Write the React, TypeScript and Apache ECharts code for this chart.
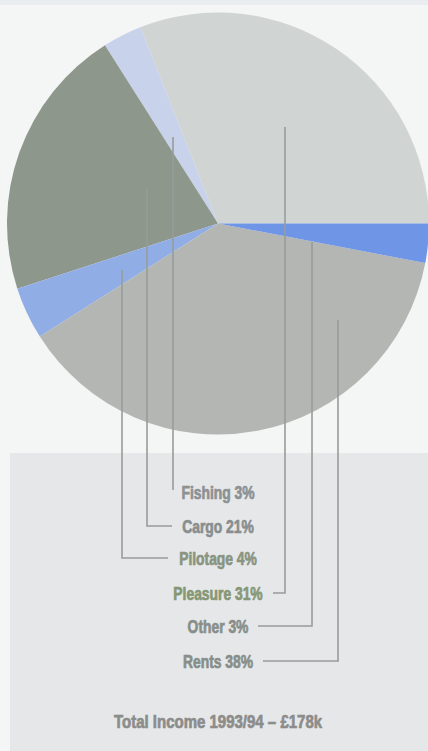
import React, { useEffect, useRef } from "react";
import * as echarts from "echarts";

// Harbour income by source, 1993/94 (percent of total)
const categories = ["Pleasure", "Fishing", "Cargo", "Pilotage", "Rents", "Other"];
const shares = [31, 3, 21, 4, 38, 3];
const sliceColors = ["#d0d5d4", "#c8d2ea", "#8e978c", "#90ade6", "#b3b6b3", "#6f95e6"];
const totalTitle = "Total Income 1993/94 – £178k";

// Order of the stacked labels in the lower panel
const labelOrder = ["Fishing", "Cargo", "Pilotage", "Pleasure", "Other", "Rents"];
const labelColors: Record<string, string> = {
  Fishing: "#8c9194",
  Cargo: "#888e8f",
  Pilotage: "#899481",
  Pleasure: "#869775",
  Other: "#888f8a",
  Rents: "#878e88",
};

// Leader-line routes: start inside the slice, drop down, turn towards the label
const leaderRoutes: Record<string, number[][]> = {
  Fishing: [[173, 137], [173, 490]],
  Cargo: [[147, 188], [147, 526], [172, 526]],
  Pilotage: [[122, 270], [122, 558], [168, 558]],
  Pleasure: [[285, 127], [285, 593], [273, 593]],
  Other: [[312, 242], [312, 626], [258, 626]],
  Rents: [[338, 320], [338, 661], [263, 661]],
};
const labelY: Record<string, number> = {
  Fishing: 492,
  Cargo: 526,
  Pilotage: 558,
  Pleasure: 593,
  Other: 626,
  Rents: 661,
};

const W = 428;
const H = 751;
const CX = 218;
const CY = 223.5;
const R = 211;
// Bold sans squeezed horizontally to get a heavy condensed face
const FONT = "'Liberation Sans', Arial, sans-serif";
const CONDENSE = 0.77;

export default function App() {
  const ref = useRef<HTMLDivElement>(null);

  useEffect(() => {
    if (!ref.current) return;
    const chart = echarts.init(ref.current, undefined, { renderer: "svg" });

    const lines = labelOrder.map((name) => ({
      type: "polyline",
      z: 50,
      silent: true,
      shape: { points: leaderRoutes[name] },
      style: { stroke: "#979d9a", lineWidth: 1.6, fill: "none" },
    }));

    const texts = labelOrder.map((name) => {
      const i = categories.indexOf(name);
      return {
        type: "text",
        z: 50,
        silent: true,
        x: CX,
        y: labelY[name],
        scaleX: CONDENSE,
        style: {
          text: `${name} ${shares[i]}%`,
          fill: labelColors[name],
          stroke: labelColors[name],
          lineWidth: 0.7,
          font: `bold 18px ${FONT}`,
          align: "center",
          verticalAlign: "middle",
        },
      };
    });

    chart.setOption({
      animation: false,
      backgroundColor: "#f4f5f5",
      graphic: [
        {
          type: "rect",
          z: -10,
          silent: true,
          shape: { x: 0, y: 0, width: W, height: 5 },
          style: { fill: "#eaedf0" },
        },
        {
          type: "rect",
          z: -10,
          silent: true,
          shape: { x: 10, y: 453, width: W - 10, height: H - 453 },
          style: { fill: "#e5e7e8" },
        },
        ...lines,
        ...texts,
        {
          type: "text",
          z: 50,
          silent: true,
          x: CX,
          y: 722,
          scaleX: 0.79,
          style: {
            text: totalTitle,
            fill: "#8c8c8b",
            stroke: "#8c8c8b",
            lineWidth: 0.7,
            font: `bold 19px ${FONT}`,
            align: "center",
            verticalAlign: "middle",
          },
        },
      ],
      series: [
        {
          type: "pie",
          z: 2,
          silent: true,
          center: [CX, CY],
          radius: R,
          startAngle: 0,
          clockwise: false,
          avoidLabelOverlap: false,
          label: { show: false },
          labelLine: { show: false },
          itemStyle: { borderWidth: 0 },
          data: categories.map((name, i) => ({
            name,
            value: shares[i],
            itemStyle: { color: sliceColors[i] },
          })),
        },
      ],
    });

    return () => chart.dispose();
  }, []);

  return (
    <div
      ref={ref}
      style={{ position: "fixed", left: 0, top: 0, width: W, height: H }}
    />
  );
}
